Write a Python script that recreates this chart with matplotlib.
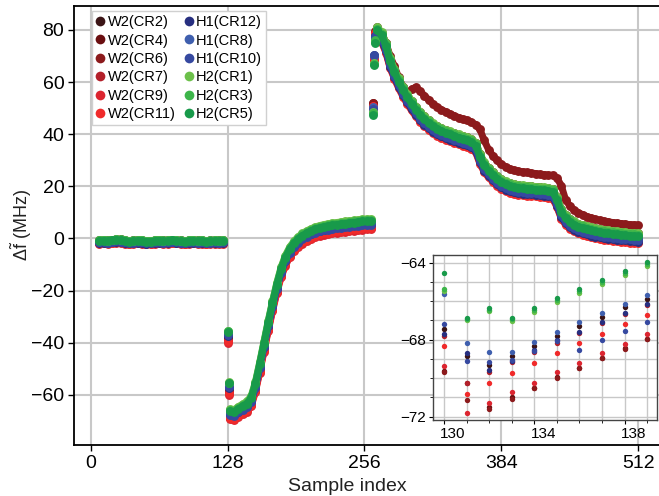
import numpy as np
import matplotlib
matplotlib.use("Agg")
import matplotlib.pyplot as plt
from matplotlib.lines import Line2D
from matplotlib.transforms import ScaledTranslation

plt.rcParams['font.family'] = ['Liberation Sans', 'DejaVu Sans']
plt.rcParams['mathtext.fontset'] = 'custom'
plt.rcParams['mathtext.rm'] = 'Liberation Sans'
plt.rcParams['mathtext.it'] = 'Liberation Sans:italic'

labels = ['W2(CR2)', 'W2(CR4)', 'W2(CR6)', 'W2(CR7)', 'W2(CR9)', 'W2(CR11)',
          'H1(CR12)', 'H1(CR8)', 'H1(CR10)', 'H2(CR1)', 'H2(CR3)', 'H2(CR5)']
colors = ['#3b1416', '#6a0e10', '#8c1a1c', '#b3202a', '#dc2530', '#f02a2a',
          '#272f80', '#3f5fae', '#3649a0', '#6cc04a', '#3db54a', '#189a4a']

# flat part before the step (samples 8..124)
flat_x = np.arange(8, 128, 4)
flat_base = [-1.0, -0.9, -1.1, -0.8, -0.6, -0.7, -1.0, -1.2, -1.1, -0.9,
             -1.0, -1.3, -1.2, -1.0, -0.9, -1.1, -1.0, -0.8, -0.9, -1.1,
             -1.2, -1.0, -0.9, -1.1, -1.0, -1.2, -1.1, -1.0, -1.1, -1.0]

# the two transition samples at 128, 129
trans_x = [128, 129]
trans_vals = {
    'W2(CR2)': [-38.0, -58.5], 'W2(CR4)': [-38.5, -59.0], 'W2(CR6)': [-39.0, -59.5],
    'W2(CR7)': [-39.0, -59.0], 'W2(CR9)': [-40.0, -60.0], 'W2(CR11)': [-39.5, -59.5],
    'H1(CR12)': [-37.5, -57.5], 'H1(CR8)': [-36.5, -56.5], 'H1(CR10)': [-37.0, -57.0],
    'H2(CR1)': [-35.5, -55.0], 'H2(CR3)': [-35.5, -55.5], 'H2(CR5)': [-36.0, -55.5],
}

# recovery from 130 to 262
rise_x = np.arange(130, 266, 4)
rise_base = [-66.0, -66.2, -65.0, -64.0, -63.0, -61.0, -55.5, -48.0, -40.0, -32.0,
             -24.5, -17.5, -11.5, -7.0, -3.8, -1.5, 0.2, 1.5, 2.5, 3.3,
             4.0, 4.5, 4.9, 5.2, 5.5, 5.7, 5.9, 6.1, 6.3, 6.5,
             6.7, 6.9, 7.0, 7.0]

# jump samples 264..266
jump_x = [264, 265, 266]
jump_vals = {
    'W2(CR2)': [51.5, 69.0, 78.5], 'W2(CR4)': [52.0, 69.5, 79.0], 'W2(CR6)': [52.0, 70.0, 79.5],
    'W2(CR7)': [51.0, 69.0, 78.0], 'W2(CR9)': [50.5, 68.5, 78.0], 'W2(CR11)': [51.0, 69.0, 79.0],
    'H1(CR12)': [50.0, 70.5, 77.5], 'H1(CR8)': [50.5, 70.0, 77.0], 'H1(CR10)': [49.5, 70.5, 77.5],
    'H2(CR1)': [48.5, 67.5, 75.5], 'H2(CR3)': [48.0, 67.0, 76.0], 'H2(CR5)': [47.5, 66.5, 75.0],
}

# decay from 268 to 512
decl_x = np.arange(268, 513, 4)
decl_base = [80.5, 78.5, 74.5, 68.5, 64.5, 60.8, 57.6, 54.8, 52.3, 50.0,
             48.0, 46.3, 44.9, 43.6, 42.6, 41.8, 41.1, 40.5, 39.9, 39.3,
             38.8, 38.3, 37.6, 36.2, 31.8, 28.6, 26.6, 24.9, 23.4, 22.2,
             21.3, 20.7, 20.3, 20.0, 19.8, 19.6, 19.5, 19.3, 19.1, 19.0,
             18.8, 18.4, 15.2, 10.8, 8.4, 6.9, 5.9, 5.1, 4.6, 4.1,
             3.7, 3.3, 3.0, 2.7, 2.5, 2.3, 2.1, 1.9, 1.8, 1.6,
             1.5, 1.4]
# W2(CR6) sits above the others in the decay
cr6_extra = [0.0, 0.0, 0.5, 1.5, 1.5, 1.0, 0.5, 0.5,
             5.0, 8.0, 8.5, 8.5, 8.3, 8.0, 7.8, 7.6, 7.5, 7.3,
             7.2, 7.1, 7.0, 7.0, 7.0, 7.5, 10.0, 9.0, 7.5, 6.8,
             6.5, 6.3, 6.2, 6.0, 5.9, 5.8, 5.8, 5.7, 5.6, 5.6,
             5.5, 5.5, 5.5, 5.8, 8.0, 9.5, 6.5, 5.5, 5.0, 4.8,
             4.5, 4.3, 4.2, 4.0, 4.0, 3.9, 3.9, 3.8, 3.8, 3.8,
             3.7, 3.7, 3.7, 3.7]

# per-series shift: (flat, rise, decay)
shifts = {
    'W2(CR2)': (-0.3, -1.5, -1.5), 'W2(CR4)': (0.0, -2.0, 0.5), 'W2(CR6)': (0.3, -2.5, 0.0),
    'W2(CR7)': (-0.6, -2.5, -2.0), 'W2(CR9)': (-1.0, -3.5, -2.8), 'W2(CR11)': (-0.8, -3.0, -3.2),
    'H1(CR12)': (-0.7, -1.5, -2.6), 'H1(CR8)': (-0.2, -1.0, -1.2), 'H1(CR10)': (-0.5, -1.8, -2.0),
    'H2(CR1)': (0.2, 0.4, 0.6), 'H2(CR3)': (0.3, 0.0, 0.0), 'H2(CR5)': (0.0, -0.4, -0.6),
}

# inset: samples 130..139
inset_x = np.arange(130, 140)
inset_vals = {
    'W2(CR2)': [-67.45, -68.87, -69.33, -68.83, -68.33, -67.81, -67.29, -66.80, -66.32, -65.87],
    'W2(CR4)': [-69.60, -70.25, -71.50, -71.00, -70.50, -69.95, -69.45, -68.95, -68.45, -67.95],
    'W2(CR6)': [-69.66, -71.15, -71.60, -71.07, -70.53, -70.00, -69.49, -68.97, -68.47, -67.97],
    'W2(CR7)': [-67.80, -70.23, -69.70, -69.18, -68.66, -68.16, -67.65, -67.15, -66.65, -66.18],
    'W2(CR9)': [-69.35, -71.80, -71.27, -70.72, -70.23, -69.70, -69.21, -68.70, -68.20, -67.72],
    'W2(CR11)': [-68.33, -70.80, -70.27, -69.75, -69.21, -68.68, -68.17, -67.69, -67.17, -66.70],
    'H1(CR12)': [-67.70, -68.70, -69.58, -69.09, -68.54, -68.00, -67.62, -67.10, -66.61, -66.15],
    'H1(CR8)': [-65.60, -68.17, -68.66, -68.66, -68.14, -67.62, -67.10, -66.61, -66.13, -65.68],
    'H1(CR10)': [-67.20, -69.10, -69.18, -69.05, -68.60, -68.05, -68.52, -68.03, -67.53, -67.06],
    'H2(CR1)': [-65.45, -67.00, -66.53, -67.03, -66.55, -66.06, -65.56, -65.10, -64.62, -64.15],
    'H2(CR3)': [-65.37, -66.94, -66.44, -66.94, -66.45, -65.95, -65.46, -65.00, -64.52, -64.06],
    'H2(CR5)': [-64.52, -66.86, -66.35, -66.86, -66.35, -65.85, -65.37, -64.90, -64.43, -63.97],
}

fig = plt.figure(figsize=(6.59, 4.96), dpi=100)
ax = fig.add_axes([74 / 659, 51 / 496, 585 / 659, 439 / 496])

ms = 6.4
for lab, col in zip(labels, colors):
    s_flat, s_rise, s_decl = shifts[lab]
    extra = np.array(cr6_extra) if lab == 'W2(CR6)' else 0.0
    segs = [(flat_x, np.array(flat_base) + s_flat),
            (rise_x, np.array(rise_base) + s_rise),
            (decl_x, np.array(decl_base) + s_decl + extra)]
    for sx, sy in segs:
        ax.plot(sx, sy, '-o', color=col, lw=5.0, ms=ms, mew=0,
                solid_capstyle='round', solid_joinstyle='round', zorder=3)
    ax.plot(trans_x, trans_vals[lab], 'o', color=col, ms=ms, mew=0, zorder=3)
    ax.plot(jump_x, jump_vals[lab], 'o', color=col, ms=ms, mew=0, zorder=3)

ax.set_xlim(-15.6, 531.4)
ax.set_ylim(-79.3, 89.2)
ax.set_xticks([0, 128, 256, 384, 512])
ax.set_yticks(np.arange(-60, 81, 20))
ax.grid(True, color='#c8c8c8', lw=1.5)
ax.set_axisbelow(True)
ax.spines['right'].set_visible(False)
for sp in ['left', 'bottom', 'top']:
    ax.spines[sp].set_linewidth(1.3)
ax.tick_params(labelsize=14, length=4, width=1, pad=3)
ax.set_xlabel('Sample index', fontsize=14, color='#222222')
ax.xaxis.set_label_coords((347 - 74) / 585, -0.075)
ax.set_ylabel(r'$\Delta\tilde{\mathrm{f}}$ (MHz)', fontsize=13, color='#222222')
ax.yaxis.set_label_coords(-(74 - 34) / 585, 0.5)

handles = [Line2D([], [], ls='none', marker='o', ms=7, mew=0, color=c) for c in colors]
leg = ax.legend(handles, labels, loc='upper left', bbox_to_anchor=(0.030, 0.989),
                borderaxespad=0, ncol=2, fontsize=10.5, handlelength=0.6,
                handletextpad=0.2, columnspacing=0.6, borderpad=0.3,
                labelspacing=0.3, fancybox=False, framealpha=1)
leg.get_frame().set_edgecolor('#d0d0d0')
leg.get_frame().set_linewidth(1.0)

# inset
axi = fig.add_axes([433 / 659, 76 / 496, 224 / 659, 165 / 496])
for lab, col in zip(labels, colors):
    axi.scatter(inset_x, inset_vals[lab], s=15, color=col, linewidths=0, zorder=3)
axi.set_xlim(129.51, 139.44)
axi.set_ylim(-72.17, -63.6)
axi.set_xticks([130, 134, 138])
axi.set_xticks(np.arange(130, 140), minor=True)
axi.set_yticks([-64, -68, -72])
axi.set_yticks(np.arange(-72, -63), minor=True)
axi.grid(True, which='both', color='#c8c8c8', lw=1.0)
axi.set_axisbelow(True)
for sp in axi.spines.values():
    sp.set_color('#444444')
    sp.set_linewidth(1.0)
axi.tick_params(labelsize=11, length=3, width=0.8, pad=2)
axi.tick_params(which='minor', length=2, width=0.6)
shift = ScaledTranslation(9 / 100, 0, fig.dpi_scale_trans)
for t in axi.get_xticklabels():
    t.set_transform(t.get_transform() + shift)

fig.savefig('out.png', dpi=100)
